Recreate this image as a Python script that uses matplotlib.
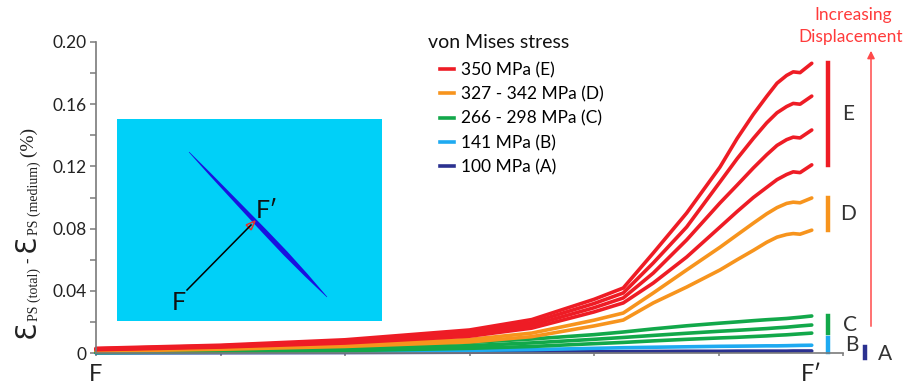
import matplotlib.pyplot as plt
import numpy as np
from matplotlib.lines import Line2D
from matplotlib.patches import Polygon

# positions along the fault path F -> F'
x_pos = [0, 1, 2, 3, 3.5, 4, 4.235, 4.476, 4.744, 5.012, 5.15, 5.28, 5.387, 5.47, 5.547, 5.60, 5.655, 5.749]

# strain difference (%) for each curve
e1 = [0.0030, 0.0050, 0.0085, 0.0148, 0.0215, 0.0345, 0.0418, 0.0643, 0.0900, 0.1196, 0.1380, 0.1535, 0.1650, 0.1735, 0.1785, 0.1808, 0.1803, 0.1863]
e2 = [0.0027, 0.0046, 0.0078, 0.0134, 0.0196, 0.0318, 0.0386, 0.0579, 0.0810, 0.1100, 0.1250, 0.1380, 0.1480, 0.1545, 0.1585, 0.1605, 0.1600, 0.1652]
e3 = [0.0024, 0.0042, 0.0071, 0.0121, 0.0178, 0.0291, 0.0354, 0.0514, 0.0727, 0.0965, 0.1080, 0.1190, 0.1275, 0.1335, 0.1372, 0.1388, 0.1383, 0.1434]
e4 = [0.0021, 0.0038, 0.0064, 0.0108, 0.0160, 0.0264, 0.0322, 0.0450, 0.0617, 0.0810, 0.0910, 0.1000, 0.1065, 0.1115, 0.1148, 0.1165, 0.1160, 0.1210]
d1 = [0.0016, 0.0030, 0.0051, 0.0087, 0.0128, 0.0211, 0.0257, 0.0386, 0.0534, 0.0680, 0.0760, 0.0835, 0.0895, 0.0935, 0.0962, 0.0970, 0.0966, 0.0997]
d2 = [0.0012, 0.0024, 0.0042, 0.0071, 0.0105, 0.0174, 0.0212, 0.0322, 0.0424, 0.0534, 0.0600, 0.0660, 0.0712, 0.0745, 0.0762, 0.0768, 0.0764, 0.0790]
c1 = [0.0008, 0.0020, 0.0037, 0.0068, 0.0090, 0.0118, 0.0135, 0.0155, 0.0175, 0.0192, 0.0200, 0.0208, 0.0214, 0.0218, 0.0222, 0.0226, 0.0230, 0.0238]
c2 = [0.0005, 0.0013, 0.0025, 0.0047, 0.0065, 0.0088, 0.0100, 0.0113, 0.0127, 0.0140, 0.0146, 0.0152, 0.0157, 0.0162, 0.0166, 0.0170, 0.0174, 0.0180]
c3 = [0.0003, 0.0008, 0.0015, 0.0030, 0.0042, 0.0060, 0.0068, 0.0078, 0.0088, 0.0097, 0.0101, 0.0106, 0.0110, 0.0114, 0.0117, 0.0120, 0.0123, 0.0128]
b1 = [0.0002, 0.0005, 0.0010, 0.0017, 0.0022, 0.0030, 0.0034, 0.0037, 0.0040, 0.0043, 0.0044, 0.0045, 0.0046, 0.0046, 0.0047, 0.0048, 0.0049, 0.0050]
a1 = [0.0001, 0.0002, 0.0003, 0.0005, 0.0006, 0.0008, 0.0009, 0.0010, 0.0011, 0.0011, 0.0012, 0.0012, 0.0012, 0.0012, 0.0012, 0.0013, 0.0013, 0.0013]

groups = ['A', 'B', 'C', 'D', 'E']
group_series = {'A': [a1], 'B': [b1], 'C': [c1, c2, c3], 'D': [d1, d2], 'E': [e1, e2, e3, e4]}
group_labels = {'E': '350 MPa (E)', 'D': '327 - 342 MPa (D)', 'C': '266 - 298 MPa (C)',
                'B': '141 MPa (B)', 'A': '100 MPa (A)'}
colors = {'E': '#ee1c25', 'D': '#f7941d', 'C': '#12a84a', 'B': '#1eaaf1', 'A': '#2b3190'}

y_ticks = [0, 0.04, 0.08, 0.12, 0.16, 0.20]
y_ticklabels = ['0', '0.04', '0.08', '0.12', '0.16', '0.20']

W, H = 907, 385
fig = plt.figure(figsize=(W / 100, H / 100), dpi=100)
ax = fig.add_axes([96 / W, 1 - 353 / H, (843 - 96) / W, (353 - 42) / H])

for g in groups:
    for s in group_series[g]:
        ax.plot(x_pos, s, color=colors[g], lw=2.6, clip_on=False, solid_capstyle='round',
                solid_joinstyle='round')

ax.set_xlim(0, 6)
ax.set_ylim(0, 0.20)
ax.spines['top'].set_visible(False)
ax.spines['right'].set_visible(False)
for sp in ['left', 'bottom']:
    ax.spines[sp].set_color('#7a7a7a')
    ax.spines[sp].set_linewidth(1.2)
ax.set_yticks(y_ticks)
ax.set_yticklabels(y_ticklabels, family='Lato', fontsize=12.5, color='#222222')
ax.set_yticks(np.arange(0.02, 0.2, 0.04), minor=True)
ax.tick_params(axis='y', which='both', direction='out', length=4.5, width=1.1, color='#7a7a7a', pad=2)
ax.set_xticks(range(7))
ax.set_xticklabels([])
ax.tick_params(axis='x', direction='out', length=2.5, width=1.1, color='#7a7a7a')

# path end labels (baseline near the bottom edge, as in the source figure)
ax.text(0, -0.0183, 'F', ha='center', va='baseline', family='Lato', fontsize=17, color='#222222')
ax.text(x_pos[-1], -0.0183, 'F\u2032', ha='center', va='baseline', family='Lato', fontsize=17, color='#222222')

# group bars and letters at right
for g, lx in zip(['E', 'D', 'C'], [6.04, 6.04, 6.06]):
    ends = [s[-1] for s in group_series[g]]
    ax.plot([5.88, 5.88], [min(ends), max(ends)], color=colors[g], lw=3.2, clip_on=False)
    ax.text(lx, (min(ends) + max(ends)) / 2, g, ha='center', va='center', family='Lato',
            fontsize=15, color='#333333', clip_on=False)
ax.plot([5.88, 5.88], [b1[-1] - 0.0043, b1[-1] + 0.0045], color=colors['B'], lw=3.2, clip_on=False)
ax.text(6.07, 0.005, 'B', ha='center', va='center', family='Lato', fontsize=15, color='#333333')
ax.plot([6.18, 6.18], [a1[-1] - 0.0045, a1[-1] + 0.0028], color=colors['A'], lw=3.2, clip_on=False)
ax.text(6.34, -0.0005, 'A', ha='center', va='center', family='Lato', fontsize=15, color='#333333')

# increasing displacement arrow
ax.annotate('', xy=(871 / W, 1 - 48 / H), xytext=(871 / W, 1 - 329 / H),
            xycoords='figure fraction', textcoords='figure fraction',
            arrowprops=dict(arrowstyle='-|>', color='#ff4a4a', lw=1.1, mutation_scale=11))
fig.text(853 / W, 1 - 15 / H, 'Increasing', ha='center', va='center', family='Lato',
         fontsize=12.5, color='#ff3b3b')
fig.text(851 / W, 1 - 37 / H, 'Displacement', ha='center', va='center', family='Lato',
         fontsize=12.5, color='#ff3b3b')

# legend
fig.text(428 / W, 1 - 42 / H, 'von Mises stress', ha='left', va='center', family='Lato',
         fontsize=14, color='#111111')
handles = [Line2D([], [], color=colors[g], lw=2.6) for g in groups[::-1]]
labels = [group_labels[g] for g in groups[::-1]]
fig.legend(handles, labels, loc='upper left', bbox_to_anchor=(440 / W, 1 - 62 / H),
           frameon=False, handlelength=0.8, handletextpad=0.4, labelspacing=0.47,
           borderpad=0, borderaxespad=0, prop={'family': 'Lato', 'size': 12.5})

# y label built piece by piece
pieces = [('\u0190', 20, 'DejaVu Sans', 35), ('PS (total)', 10, 'Liberation Serif', 38),
          (' - ', 12.5, 'Lato', 34), ('\u0190', 20, 'DejaVu Sans', 35),
          ('PS (medium)', 10, 'Liberation Serif', 38), (' (%)', 14, 'Liberation Serif', 34)]
renderer = fig.canvas.get_renderer()
ypix = 338
for txt, size, fam, bx in pieces:
    t = fig.text(bx / W, 1 - ypix / H, txt, rotation=90, rotation_mode='anchor', ha='left',
                 va='baseline', family=fam, fontsize=size, color='#222222')
    ext = t.get_window_extent(renderer)
    ypix -= ext.height

# inset image of the fault
ins = fig.add_axes([117 / W, 1 - 321 / H, 265 / W, 202 / H])
ins.set_facecolor('#00d0f8')
ins.set_xlim(0, 265)
ins.set_ylim(202, 0)
ins.set_xticks([])
ins.set_yticks([])
for sp in ins.spines.values():
    sp.set_visible(False)
p0 = np.array([72.0, 33.0])
p1 = np.array([210.0, 178.0])
d = (p1 - p0) / np.linalg.norm(p1 - p0)
n = np.array([-d[1], d[0]])
tt = np.array([0, 0.15, 0.35, 0.55, 0.7, 0.85, 1.0])
hw = np.array([0.3, 1.2, 1.9, 2.5, 2.6, 1.8, 0.3])
centre = p0 + np.outer(tt, p1 - p0)
poly = np.vstack([centre + np.outer(hw, n), (centre - np.outer(hw, n))[::-1]])
ins.add_patch(Polygon(poly, closed=True, color='#1a12e0', lw=0))
ins.plot([70, 134], [171, 106], color='black', lw=1.1)
tip = np.array([138.0, 102.0])
u = np.array([68.0, -69.0]) / np.hypot(68, 69)
v = np.array([-u[1], u[0]])
head = np.array([tip, tip - 9 * u + 3.5 * v, tip - 9 * u - 3.5 * v])
ins.add_patch(Polygon(head, closed=True, fill=False, edgecolor='#e8322b', lw=1.1))
ins.text(62, 183, 'F', ha='center', va='center', family='Lato', fontsize=18, color='#111111')
ins.text(150, 92, 'F\u2032', ha='center', va='center', family='Lato', fontsize=18, color='#111111')

fig.savefig('out.png', dpi=100)
